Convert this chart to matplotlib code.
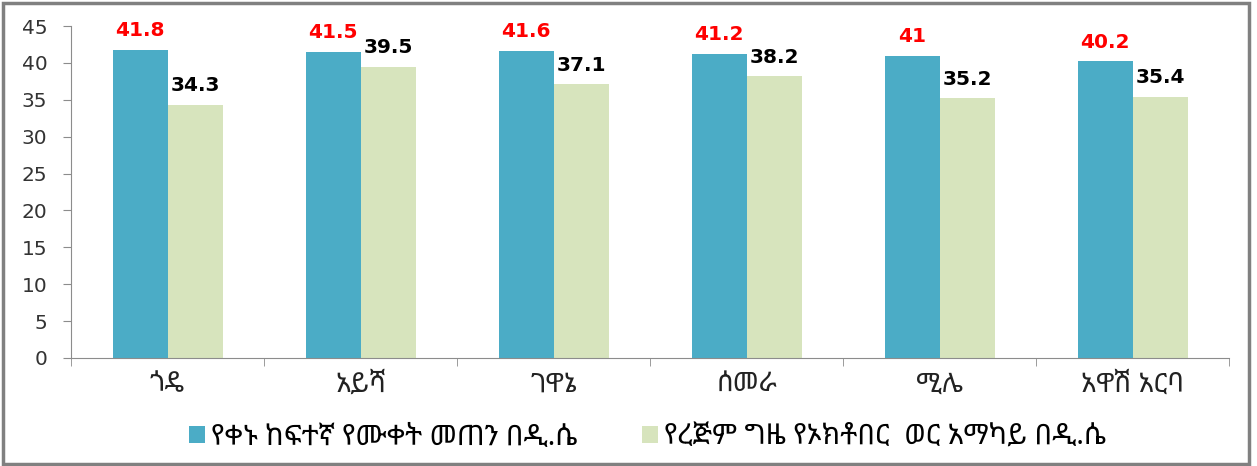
import numpy as np
import matplotlib
matplotlib.use('Agg')
import matplotlib.pyplot as plt
from matplotlib.patches import Rectangle

ETH = ['Noto Sans Ethiopic', 'DejaVu Sans']

stations = ['ጎዴ', 'አይሻ', 'ገዋኔ', 'ሰመራ', 'ሚሌ', 'አዋሽ አርባ']
day_max = [41.8, 41.5, 41.6, 41.2, 41, 40.2]
oct_mean = [34.3, 39.5, 37.1, 38.2, 35.2, 35.4]
series_names = ['የቀኑ ከፍተኛ የሙቀት መጠን በዲ.ሴ', 'የረጅም ግዜ የኦክቶበር  ወር አማካይ በዲ.ሴ']

BLUE = '#4BACC6'
GREEN = '#D7E4BD'
GRAY = '#8c8c8c'

fig = plt.figure(figsize=(12.57, 4.66), dpi=100)
ax = fig.add_axes([0.0565, 0.232, 0.9215, 0.712])

x = np.arange(len(stations))
w = 0.285
b1 = ax.bar(x - w / 2, day_max, w, color=BLUE, label=series_names[0])
b2 = ax.bar(x + w / 2, oct_mean, w, color=GREEN, label=series_names[1])

for rect, v in zip(b1, day_max):
    ax.annotate(f'{v:g}', (rect.get_x() + rect.get_width() / 2, v),
                xytext=(0, 7), textcoords='offset points', ha='center', va='bottom',
                fontsize=14.5, fontweight='bold', color='red')
for rect, v in zip(b2, oct_mean):
    ax.annotate(f'{v:g}', (rect.get_x() + rect.get_width() / 2, v),
                xytext=(0, 7), textcoords='offset points', ha='center', va='bottom',
                fontsize=14.5, fontweight='bold', color='black')

ax.set_xlim(-0.5, len(stations) - 0.5)
ax.set_ylim(0, 45)
ax.set_yticks(np.arange(0, 46, 5))
ax.tick_params(axis='y', labelsize=14.5, colors=GRAY, labelcolor='#333333', length=6, pad=11)
ax.set_xticks(x)
ax.set_xticklabels(stations, family=ETH, fontsize=19.5)
ax.tick_params(axis='x', length=0, pad=9, labelcolor='#222222')
ax.set_xticks(np.arange(-0.5, len(stations), 1), minor=True)
ax.tick_params(axis='x', which='minor', length=6, colors=GRAY)

for s in ['top', 'right']:
    ax.spines[s].set_visible(False)
for s in ['left', 'bottom']:
    ax.spines[s].set_color(GRAY)

fig.legend(handles=[b1, b2], labels=series_names, loc='center', bbox_to_anchor=(0.515, 0.062),
           ncol=2, frameon=False, prop={'family': ETH, 'size': 20.5},
           handlelength=0.55, handleheight=0.55, handletextpad=0.2, columnspacing=2.3)

fig.patches.append(Rectangle((0.002, 0.004), 0.992, 0.99, transform=fig.transFigure,
                             fill=False, edgecolor='#808080', linewidth=2.5))

fig.savefig('out.png')
